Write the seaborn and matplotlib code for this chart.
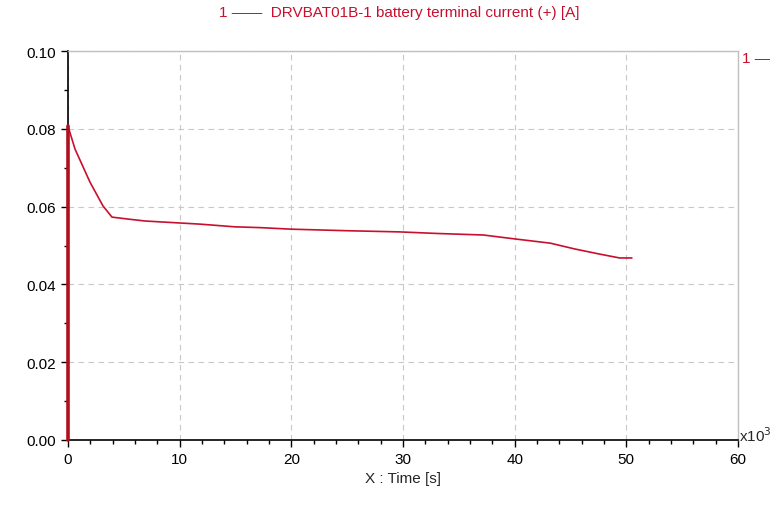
import numpy as np
import pandas as pd
import seaborn as sns
import matplotlib.pyplot as plt
from matplotlib.ticker import MultipleLocator

time_k = [0.0, 0.0, 0.63, 1.97, 3.13, 3.94, 5.37, 6.9, 11.8, 14.95, 17.2,
          20.0, 25.0, 29.7, 33.0, 37.2, 40.0, 43.2, 45.4, 47.6, 49.4, 50.5]
current = [0.0, 0.0807, 0.0748, 0.0663, 0.0602, 0.0573, 0.0568, 0.0563, 0.0555,
           0.0548, 0.0546, 0.0542, 0.0538, 0.0535, 0.0531, 0.0527, 0.0517,
           0.0506, 0.0491, 0.0478, 0.0468, 0.0468]
legend_text = "1 \u2014\u2014  DRVBAT01B-1 battery terminal current (+) [A]"

df = pd.DataFrame({"time": time_k, "current": current})

sns.set_style("white")
plt.rcParams["font.family"] = ["Liberation Sans", "DejaVu Sans"]

red = "#c8102e"
fig = plt.figure(figsize=(7.83, 5.10), dpi=100)
ax = fig.add_axes([0.0868, 0.1353, 0.8557, 0.7627])

# estimator=None keeps the two t=0 points (vertical jump) instead of averaging
sns.lineplot(data=df, x="time", y="current", sort=False, estimator=None,
             color=red, linewidth=1.2, ax=ax)
ax.plot([time_k[0], time_k[1]], [current[0], current[1]], color="#b0101e",
        linewidth=2.6, zorder=5, clip_on=False)

ax.set_xlim(0, 60)
ax.set_ylim(0, 0.10)
ax.xaxis.set_major_locator(MultipleLocator(10))
ax.xaxis.set_minor_locator(MultipleLocator(2))
ax.yaxis.set_major_locator(MultipleLocator(0.02))
ax.yaxis.set_minor_locator(MultipleLocator(0.01))
ax.yaxis.set_major_formatter(plt.FormatStrFormatter("%.2f"))

ax.grid(True, which="major", linestyle=(0, (5, 4)), color="#c8c8c8", linewidth=0.8)
ax.tick_params(which="major", direction="out", length=5, width=1, colors="black",
               labelsize=11, bottom=True, left=True)
ax.tick_params(which="minor", direction="out", length=3, width=1, colors="black",
               bottom=True, left=True)

for side in ["left", "bottom"]:
    ax.spines[side].set_color("black")
    ax.spines[side].set_linewidth(1.2)
for side in ["top", "right"]:
    ax.spines[side].set_color("#c0c0c0")
    ax.spines[side].set_linewidth(1.0)

ax.set_xlabel("X : Time [s]", fontsize=11, labelpad=4)
ax.set_ylabel("")

fig.text(0.51, 0.975, legend_text, color=red, fontsize=11, ha="center", va="center")
fig.text(0.948, 0.885, "1 \u2014", color=red, fontsize=11, ha="left", va="center")
fig.text(0.944, 0.145, r"x10$^3$", fontsize=11, ha="left", va="center")

fig.savefig("out.png", dpi=100)
